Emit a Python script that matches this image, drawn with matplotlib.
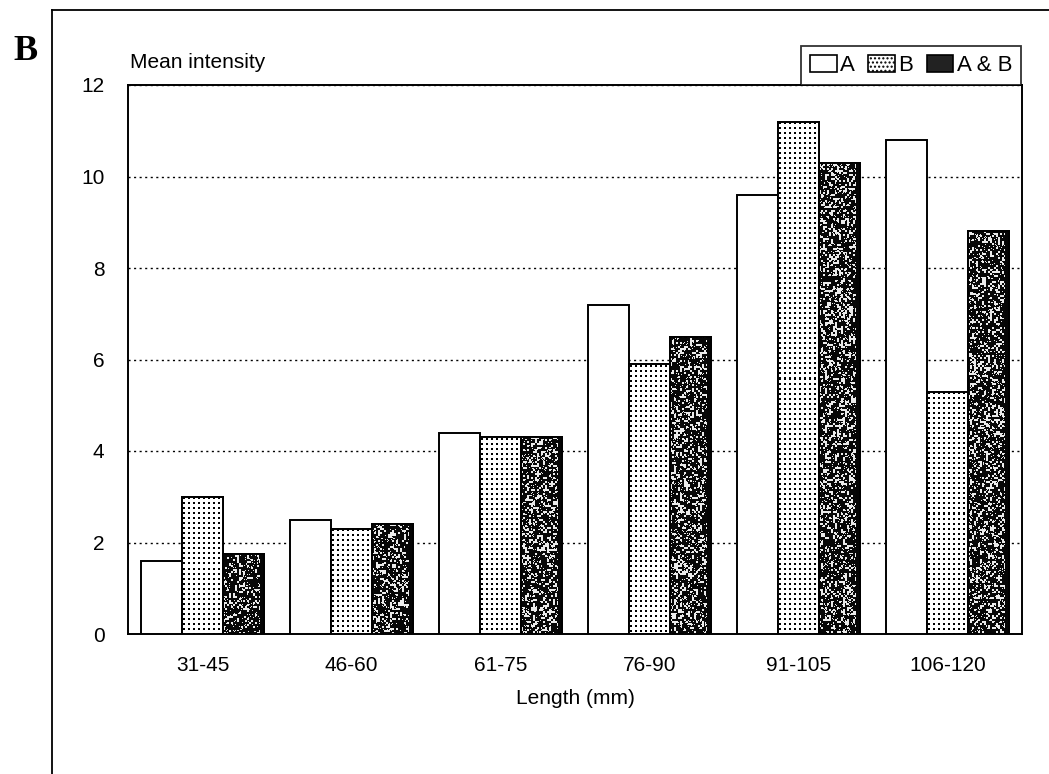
import numpy as np
import matplotlib
matplotlib.use("Agg")
import matplotlib.pyplot as plt
from matplotlib.lines import Line2D
from matplotlib.patches import Rectangle

plt.rcParams['font.family'] = ['Liberation Sans', 'DejaVu Sans']

# Data
categories = ["31-45", "46-60", "61-75", "76-90", "91-105", "106-120"]
series_names = ["A", "B", "A & B"]
values_a = [1.6, 2.5, 4.4, 7.2, 9.6, 10.8]
values_b = [3.0, 2.3, 4.3, 5.9, 11.2, 5.3]
values_ab = [1.75, 2.4, 4.3, 6.5, 10.3, 8.8]
y_ticks = [0, 2, 4, 6, 8, 10, 12]

FS = 15
W, H = 1049, 774
fig = plt.figure(figsize=(W / 100, H / 100), dpi=100)
ax = fig.add_axes([128 / W, 1 - 634 / H, (1022 - 128) / W, (634 - 85) / H])
ax.set_xlim(-0.5, len(categories) - 0.5)
ax.set_ylim(0, 12)

x = np.arange(len(categories))
bw = 0.275
rng = np.random.default_rng(11)


def pixel_size(p):
    (x0, y0), (x1, y1) = ax.transData.transform([(p.get_x(), 0), (p.get_x() + p.get_width(), p.get_height())])
    return max(2, int(round(x1 - x0))), max(2, int(round(y1 - y0)))


def dot_texture(w, h, step=5):
    t = np.ones((h, w))
    for r in range(1, h, step):
        for c in range(1, w, step):
            t[r:r + 2, c:c + 2] = 0.0
    return t


def speckle_texture(w, h):
    small = rng.random(((h + 1) // 2, (w + 1) // 2))
    t = np.where(small > 0.76, 0.92, 0.03)
    t = np.kron(t, np.ones((2, 2)))[:h, :w]
    fine = rng.random((h, w))
    t = np.where(fine > 0.92, 0.9, t)
    t[:, -4:] = 0.02  # dark right edge of each bar
    return t


def fill_with(bars, maker):
    for p in bars:
        w, h = pixel_size(p)
        im = ax.imshow(maker(w, h), extent=(p.get_x(), p.get_x() + p.get_width(), 0, p.get_height()),
                       cmap="gray", vmin=0, vmax=1, aspect="auto", interpolation="nearest", zorder=3.5)
        im.set_clip_path(p)
        ax.add_patch(Rectangle((p.get_x(), 0), p.get_width(), p.get_height(), fill=False,
                               edgecolor="black", linewidth=1.4, zorder=4))


bars_a = ax.bar(x - bw, values_a, bw, color="white", edgecolor="black", linewidth=1.4, zorder=3)
bars_b = ax.bar(x, values_b, bw, color="white", edgecolor="black", linewidth=1.4, zorder=3)
bars_ab = ax.bar(x + bw, values_ab, bw, color="black", edgecolor="black", linewidth=1.4, zorder=3)
fill_with(bars_b, dot_texture)
fill_with(bars_ab, speckle_texture)

ax.set_yticks(y_ticks)
ax.set_yticklabels([str(t) for t in y_ticks], fontsize=FS)
ax.set_xticks(x)
ax.set_xticklabels(categories, fontsize=FS)
ax.tick_params(length=0)
ax.tick_params(axis="x", pad=16)
ax.tick_params(axis="y", pad=17)
ax.yaxis.grid(True, linestyle=(0, (1.5, 2.5)), color="black", linewidth=1.0, zorder=0)
ax.set_axisbelow(True)
for s in ax.spines.values():
    s.set_linewidth(1.4)
ax.set_xlabel("Length (mm)", fontsize=FS, labelpad=10)

fig.text(130 / W, 1 - 63 / H, "Mean intensity", fontsize=FS, va="center", ha="left")

# legend
handles = [
    Rectangle((0, 0), 1, 1, facecolor="white", edgecolor="black", linewidth=1.2),
    Rectangle((0, 0), 1, 1, facecolor="white", edgecolor="black", hatch="....", linewidth=1.2),
    Rectangle((0, 0), 1, 1, facecolor="#222222", edgecolor="black", linewidth=1.2),
]
leg = fig.legend(handles, series_names, loc="lower right",
                 bbox_to_anchor=(1021 / W, 1 - 85 / H), ncol=3,
                 prop={"size": 16}, frameon=True, fancybox=False, edgecolor="black",
                 borderpad=0.4, handlelength=1.2, handleheight=0.85, handletextpad=0.15,
                 columnspacing=0.6, borderaxespad=0)
leg.get_frame().set_linewidth(1.3)

# panel frame and letter
fig.add_artist(Line2D([52 / W, 52 / W], [0, 1 - 10 / H], color="black", linewidth=1.3))
fig.add_artist(Line2D([52 / W, 1], [1 - 10 / H, 1 - 10 / H], color="black", linewidth=1.3))
fig.text(26 / W, 1 - 52 / H, "B", fontsize=26, ha="center", va="center",
         family="Liberation Serif", weight="bold")

fig.savefig("out.png", dpi=100)
